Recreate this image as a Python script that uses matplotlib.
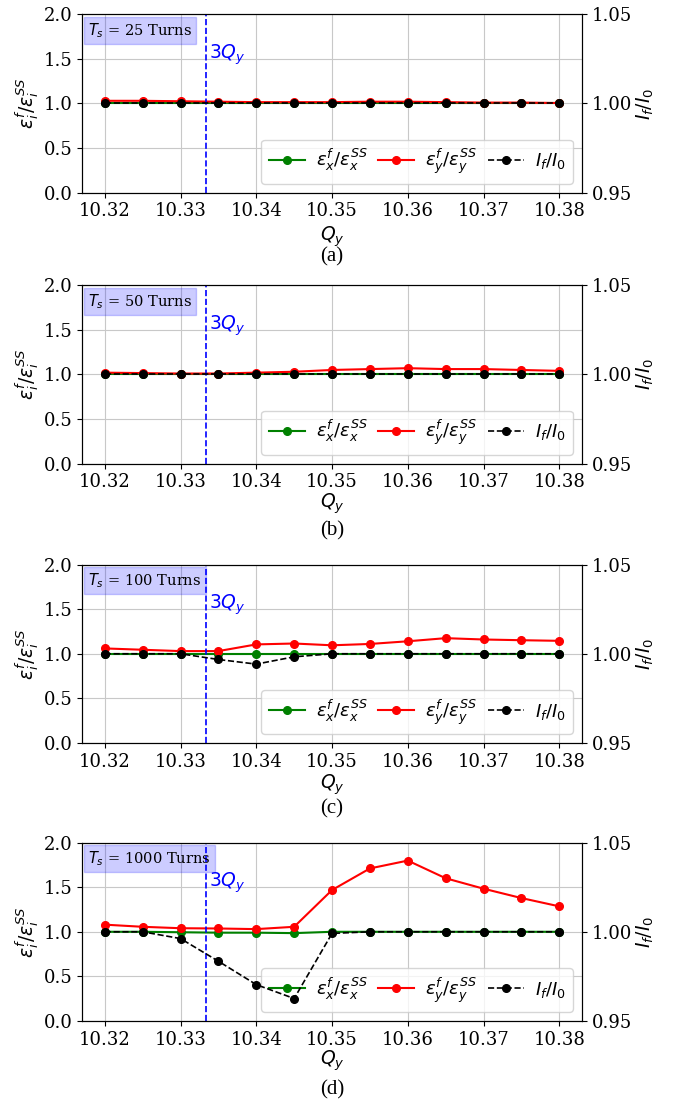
import matplotlib
matplotlib.use("Agg")
import matplotlib.pyplot as plt

plt.rcParams['font.family'] = 'DejaVu Serif'
plt.rcParams['mathtext.fontset'] = 'dejavusans'

# Tune Q_y (x axis)
q_y = [10.320, 10.325, 10.330, 10.335, 10.340, 10.345, 10.350,
       10.355, 10.360, 10.365, 10.370, 10.375, 10.380]
q_res = 31 / 3  # 3Q_y resonance

panels = ["(a)", "(b)", "(c)", "(d)"]
turns = [25, 50, 100, 1000]

# eps_x^f / eps_x^SS
ex_25 = [1.0, 1.0, 1.0, 1.0, 1.0, 1.0, 1.0, 1.0, 1.0, 1.0, 1.0, 1.0, 1.0]
ex_50 = [1.0, 1.0, 1.0, 1.0, 1.0, 1.0, 1.0, 1.0, 1.0, 1.0, 1.0, 1.0, 1.0]
ex_100 = [1.0, 1.0, 1.0, 1.0, 1.0, 1.0, 1.0, 1.0, 1.0, 1.0, 1.0, 1.0, 1.0]
ex_1000 = [1.0, 1.0, 0.995, 0.99, 0.99, 0.985, 1.0, 1.0, 1.0, 1.0, 1.0, 1.0, 1.0]

# eps_y^f / eps_y^SS
ey_25 = [1.03, 1.03, 1.025, 1.02, 1.015, 1.015, 1.015, 1.02, 1.02, 1.015, 1.01, 1.01, 1.005]
ey_50 = [1.02, 1.015, 1.01, 1.01, 1.02, 1.03, 1.05, 1.06, 1.07, 1.06, 1.06, 1.05, 1.04]
ey_100 = [1.06, 1.045, 1.03, 1.03, 1.105, 1.115, 1.095, 1.11, 1.14, 1.175, 1.16, 1.152, 1.145]
ey_1000 = [1.08, 1.056, 1.04, 1.037, 1.03, 1.056, 1.468, 1.71, 1.798, 1.6, 1.483, 1.378, 1.285]

# I_f / I_0 (right axis)
ii_25 = [1.0, 1.0, 1.0, 1.0, 1.0, 1.0, 1.0, 1.0, 1.0, 1.0, 1.0, 1.0, 1.0]
ii_50 = [1.0, 1.0, 1.0, 1.0, 1.0, 1.0, 1.0, 1.0, 1.0, 1.0, 1.0, 1.0, 1.0]
ii_100 = [1.0, 1.0, 1.0, 0.9968, 0.9942, 0.9983, 1.0, 1.0, 1.0, 1.0, 1.0, 1.0, 1.0]
ii_1000 = [1.0, 1.0, 0.9962, 0.9835, 0.9704, 0.9626, 0.9991, 1.0, 1.0, 1.0, 1.0, 1.0, 1.0]

ex_all = [ex_25, ex_50, ex_100, ex_1000]
ey_all = [ey_25, ey_50, ey_100, ey_1000]
ii_all = [ii_25, ii_50, ii_100, ii_1000]

fig = plt.figure(figsize=(6.79, 11.05), dpi=100)
bottoms = [0.8256, 0.5804, 0.3276, 0.0760]
left, width, height = 0.1208, 0.7364, 0.1615
xlab_pad = [3, 0, 1, 0]
cap_off = [0.0585, 0.0606, 0.0592, 0.0624]

for k in range(4):
    ax = fig.add_axes([left, bottoms[k], width, height])
    ax2 = ax.twinx()

    l1, = ax.plot(q_y, ex_all[k], '-o', color='green', ms=5.5, lw=1.5,
                  label=r'$\varepsilon_x^f/\varepsilon_x^{SS}$')
    l2, = ax.plot(q_y, ey_all[k], '-o', color='red', ms=5.5, lw=1.5,
                  label=r'$\varepsilon_y^f/\varepsilon_y^{SS}$')
    l3, = ax2.plot(q_y, ii_all[k], '--o', color='black', ms=5.5, lw=1.2,
                   label=r'$I_f/I_0$')

    ax.axvline(q_res, color='blue', ls='--', lw=1.2)
    ax.text(q_res + 0.0004, 1.55, r'$3Q_y$', color='blue', fontsize=13.5,
            va='center', ha='left')

    ax.text(0.012, 0.962, r'$T_s$' + ' = %d Turns' % turns[k],
            transform=ax.transAxes, fontsize=10.5, va='top', ha='left',
            bbox=dict(boxstyle='square,pad=0.3', facecolor='blue',
                      edgecolor='blue', alpha=0.2))

    ax.set_ylim(0, 2)
    ax2.set_ylim(0.95, 1.05)
    ax.set_yticks([0.0, 0.5, 1.0, 1.5, 2.0])
    ax2.set_yticks([0.95, 1.00, 1.05])
    ax.set_xticks([10.32, 10.33, 10.34, 10.35, 10.36, 10.37, 10.38])
    ax.set_xticklabels(['10.32', '10.33', '10.34', '10.35', '10.36', '10.37', '10.38'])
    ax.tick_params(labelsize=13)
    ax2.tick_params(labelsize=13)
    ax.grid(True, color='#c8c8c8')

    ax.set_xlabel(r'$Q_y$', fontsize=13.5, labelpad=xlab_pad[k])
    ax.set_ylabel(r'$\varepsilon_i^f/\varepsilon_i^{SS}$', fontsize=13.5, labelpad=2)
    ax2.set_ylabel(r'$I_f/I_0$', fontsize=13.5, labelpad=2)

    ax.legend(handles=[l1, l2, l3], loc='lower right', ncol=3, fontsize=13,
              handlelength=2.0, handletextpad=0.6, columnspacing=0.6)

    fig.text(left + width / 2, bottoms[k] - cap_off[k], panels[k],
             family='Liberation Serif', fontsize=15, ha='center', va='center')

plt.savefig('out.png', dpi=100)
plt.close()
